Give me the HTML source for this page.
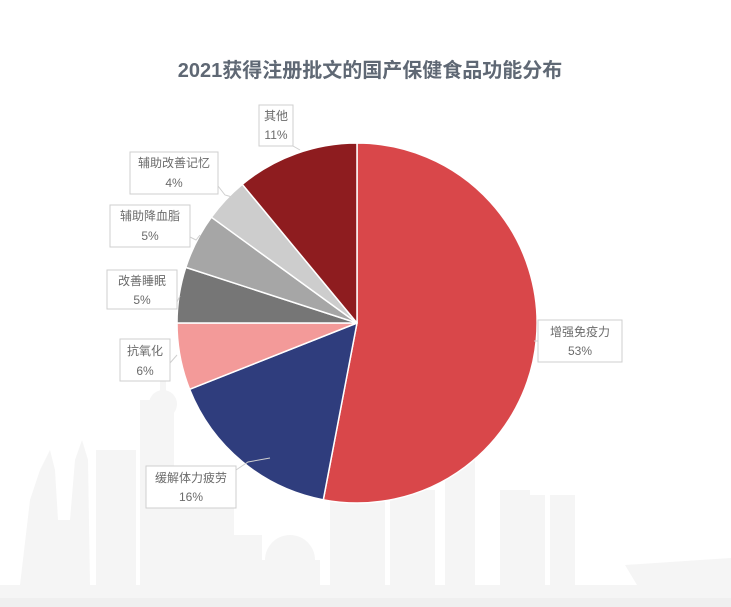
<!DOCTYPE html>
<html><head><meta charset="utf-8"><style>
body{margin:0;background:#fff;}
svg{display:block}
text{font-family:"Liberation Sans","Noto Sans CJK SC",sans-serif;}
</style></head><body>
<svg width="731" height="607" viewBox="0 0 731 607">
<g fill="#f5f5f5">
<rect x="0" y="585" width="731" height="22"/>
<rect x="0" y="598" width="731" height="9" fill="#efefef"/>
<polygon points="20,585 30,500 40,470 50,450 55,470 58,520 70,520 75,460 82,440 88,460 90,585"/>
<rect x="96" y="450" width="40" height="135"/>
<rect x="140" y="400" width="34" height="185"/>
<circle cx="163" cy="404" r="14"/>
<rect x="157" y="420" width="10" height="80"/>
<circle cx="165" cy="503" r="17"/>
<rect x="160" y="380" width="6" height="30"/>
<rect x="174" y="500" width="60" height="85"/>
<rect x="232" y="535" width="30" height="50"/>
<circle cx="290" cy="560" r="25"/>
<rect x="260" y="560" width="60" height="25"/>
<rect x="330" y="500" width="55" height="85"/>
<rect x="390" y="490" width="45" height="95"/>
<rect x="445" y="460" width="30" height="125"/>
<rect x="500" y="490" width="30" height="95"/>
<rect x="520" y="495" width="25" height="90"/>
<rect x="550" y="495" width="25" height="90"/>
<polygon points="625,565 700,560 731,558 731,590 640,590"/>
</g>
<g stroke="#fff" stroke-width="1.5" stroke-linejoin="round">
<path d="M357,323 L357,143 A180,180 0 1 1 323.3,499.8 Z" fill="#d9474a"/>
<path d="M357,323 L323.3,499.8 A180,180 0 0 1 189.6,389.3 Z" fill="#2f3d7d"/>
<path d="M357,323 L189.6,389.3 A180,180 0 0 1 177,323 Z" fill="#f39a99"/>
<path d="M357,323 L177,323 A180,180 0 0 1 185.8,267.4 Z" fill="#767676"/>
<path d="M357,323 L185.8,267.4 A180,180 0 0 1 211.4,217.2 Z" fill="#a6a6a6"/>
<path d="M357,323 L211.4,217.2 A180,180 0 0 1 242.3,184.3 Z" fill="#cdcdcd"/>
<path d="M357,323 L242.3,184.3 A180,180 0 0 1 357,143 Z" fill="#8e1c1f"/>
</g>
<g fill="#fff" stroke="#cfcfcf" stroke-width="1">
<rect x="259" y="105" width="34" height="41"/>
<rect x="130" y="152" width="88" height="42"/>
<rect x="110" y="205" width="80" height="42"/>
<rect x="107" y="270" width="70" height="39"/>
<rect x="120" y="339" width="50" height="42"/>
<rect x="146" y="466" width="90" height="42"/>
<rect x="538" y="320" width="84" height="42"/>
</g>
<g stroke="#cfcfcf" fill="none">
<polyline points="293,140 293,146 300,150"/>
<polyline points="218,186 225,195 232,197"/>
<polyline points="190,237 196,240 200,235"/>
<polyline points="177,302 180,296"/>
<polyline points="170,363 177,355"/>
<polyline points="236,470 248,462 270,458"/>
<polyline points="538,341 534,341"/>
</g>
<g fill="#6b6b6b" font-size="12" text-anchor="middle">
<text x="276" y="120">其他</text><text x="276" y="139">11%</text>
<text x="174" y="167">辅助改善记忆</text><text x="174" y="187">4%</text>
<text x="150" y="220">辅助降血脂</text><text x="150" y="240">5%</text>
<text x="142" y="285">改善睡眠</text><text x="142" y="304">5%</text>
<text x="145" y="355">抗氧化</text><text x="145" y="375">6%</text>
<text x="191" y="482">缓解体力疲劳</text><text x="191" y="501">16%</text>
<text x="580" y="336">增强免疫力</text><text x="580" y="355">53%</text>
</g>
<text x="370" y="77" text-anchor="middle" font-size="20" font-weight="bold" fill="#5f6874">2021获得注册批文的国产保健食品功能分布</text>
</svg>
</body></html>
